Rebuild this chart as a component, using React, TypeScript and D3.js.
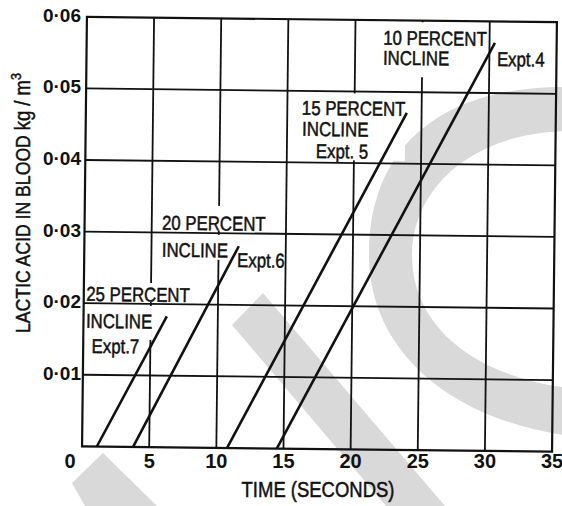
import * as d3 from "d3";

// lactic acid vs time, one straight run per incline experiment
const inclines = ["25 PERCENT", "20 PERCENT", "15 PERCENT", "10 PERCENT"];
const expts = ["Expt.7", "Expt.6", "Expt. 5", "Expt.4"];
const startTime = [1.1, 3.8, 10.8, 14.5];
const endTime = [6.2, 11.5, 23.9, 30.4];
const endLactic = [0.0183, 0.0282, 0.0471, 0.057];

const xTicks = [5, 10, 15, 20, 25, 30, 35];
const yTicks = [0.01, 0.02, 0.03, 0.04, 0.05, 0.06];
const yTickLabels = ["0·01", "0·02", "0·03", "0·04", "0·05", "0·06"];

const W = 562;
const H = 506;
const ROT = 0.65; // the scan is a little crooked
const SQ = 0.84; // condensed look

const font = "'Liberation Sans', Arial, sans-serif";

// condensed text: regular sans squeezed horizontally
const Narrow = ({
  x,
  y,
  size,
  rotate = 0,
  anchor = "start",
  children,
}: {
  x: number;
  y: number;
  size: number;
  rotate?: number;
  anchor?: string;
  children: any;
}) => (
  <text
    transform={`translate(${x},${y}) rotate(${rotate}) scale(${SQ},1)`}
    fontFamily={font}
    fontSize={size}
    textAnchor={anchor}
    fill="#111"
    stroke="#111"
    strokeWidth={0.5}
  >
    {children}
  </text>
);

export default function App() {
  const x = d3.scaleLinear().domain([0, 35]).range([84.5, 554.5]);
  const y = d3.scaleLinear().domain([0, 0.06]).range([449, 19.5]);
  const line = d3
    .line<[number, number]>()
    .x((d) => x(d[0]))
    .y((d) => y(d[1]));

  // where each label block sits (text lines + white patch behind)
  const labelLayout = [
    {
      lines: [
        { t: inclines[0], x: 87, y: 303.5 },
        { t: "INCLINE", x: 87, y: 330.5 },
        { t: expts[0], x: 93, y: 355.5 },
      ],
      boxes: [
        [86, 285, 108, 19],
        [86, 308, 67, 34],
      ],
    },
    {
      lines: [
        { t: inclines[1], x: 162, y: 231.5 },
        { t: "INCLINE", x: 162, y: 258.5 },
        { t: expts[1], x: 237.5, y: 268 },
      ],
      boxes: [
        [160, 207, 110, 25],
        [160, 236, 72, 25],
      ],
    },
    {
      lines: [
        { t: inclines[2], x: 300.5, y: 115 },
        { t: "INCLINE", x: 301, y: 136 },
        { t: expts[2], x: 315, y: 158 },
      ],
      boxes: [[298, 93, 106, 67]],
    },
    {
      lines: [
        { t: inclines[3], x: 381, y: 44 },
        { t: "INCLINE", x: 381, y: 64 },
        { t: expts[3], x: 495, y: 64 },
      ],
      boxes: [[377, 21, 107, 55]],
    },
  ];

  const s = Math.sin((ROT * Math.PI) / 180);
  const cx = 318;
  const cy = 233;

  return (
    <div style={{ position: "absolute", left: 0, top: 0 }}>
      <svg width={W} height={H} style={{ display: "block" }}>
        <rect width={W} height={H} fill="#fff" />
        {/* grey watermark left by the scan */}
        <g fill="#d9d9d9" stroke="none">
          <path d="M 570 87 C 450 85, 369 140, 369 255 C 369 350, 450 420, 570 436 L 570 388 C 480 378, 412 330, 412 255 C 412 190, 470 132, 570 131 Z" />
          <path d="M 263 293 L 232 325 L 386 506 L 445 506 Z" />
          <path d="M 103 453 L 72 483 L 85 506 L 157 506 Z" />
        </g>

        <g transform={`rotate(${ROT} ${cx} ${cy})`}>
          {/* grid */}
          <g stroke="#111" strokeWidth={1.8}>
            {xTicks.slice(0, -1).map((t) => (
              <line key={"vx" + t} x1={x(t)} x2={x(t)} y1={y(0)} y2={y(0.06)} />
            ))}
            {yTicks.slice(0, -1).map((t) => (
              <line key={"hy" + t} x1={x(0)} x2={x(35)} y1={y(t)} y2={y(t)} />
            ))}
          </g>
          <rect
            x={x(0)}
            y={y(0.06)}
            width={x(35) - x(0)}
            height={y(0) - y(0.06)}
            fill="none"
            stroke="#111"
            strokeWidth={2.2}
          />

          {/* white patches under the labels */}
          {labelLayout.map((l, i) =>
            l.boxes.map((b, j) => (
              <rect key={`b${i}-${j}`} x={b[0]} y={b[1]} width={b[2]} height={b[3]} fill="#fff" />
            ))
          )}

          {/* experiment lines */}
          {startTime.map((st, i) => (
            <path
              key={"l" + i}
              d={line([
                [st, 0],
                [endTime[i], endLactic[i]],
              ])!}
              fill="none"
              stroke="#111"
              strokeWidth={2.6}
            />
          ))}

          {labelLayout.map((l, i) =>
            l.lines.map((ln, j) => (
              <Narrow key={`t${i}-${j}`} x={ln.x} y={ln.y} size={20}>
                {ln.t}
              </Narrow>
            ))
          )}
        </g>

        {/* tick labels */}
        <g fontFamily={font} fontWeight="bold" fill="#111">
          {yTicks.map((t, i) => (
            <text
              key={"yt" + t}
              x={81}
              y={y(t) + (x(0) - cx) * s}
              textAnchor="end"
              dominantBaseline="middle"
              fontSize={19}
            >
              {yTickLabels[i]}
            </text>
          ))}
          {xTicks.map((t) => (
            <text
              key={"xt" + t}
              x={x(t) - (y(0) - cy) * s}
              y={468}
              textAnchor="middle"
              fontSize={20}
            >
              {t}
            </text>
          ))}
          <text x={70} y={468} textAnchor="middle" fontSize={20}>
            0
          </text>
        </g>

        {/* axis titles */}
        <Narrow x={318} y={497} size={22} anchor="middle">
          TIME (SECONDS)
        </Narrow>
        <Narrow x={30} y={333} size={21} rotate={-90}>
          LACTIC ACID IN BLOOD{" "}
          <tspan fontSize={22}>kg / m</tspan>
          <tspan fontSize={15} dy={-9}>
            3
          </tspan>
        </Narrow>
      </svg>
    </div>
  );
}
